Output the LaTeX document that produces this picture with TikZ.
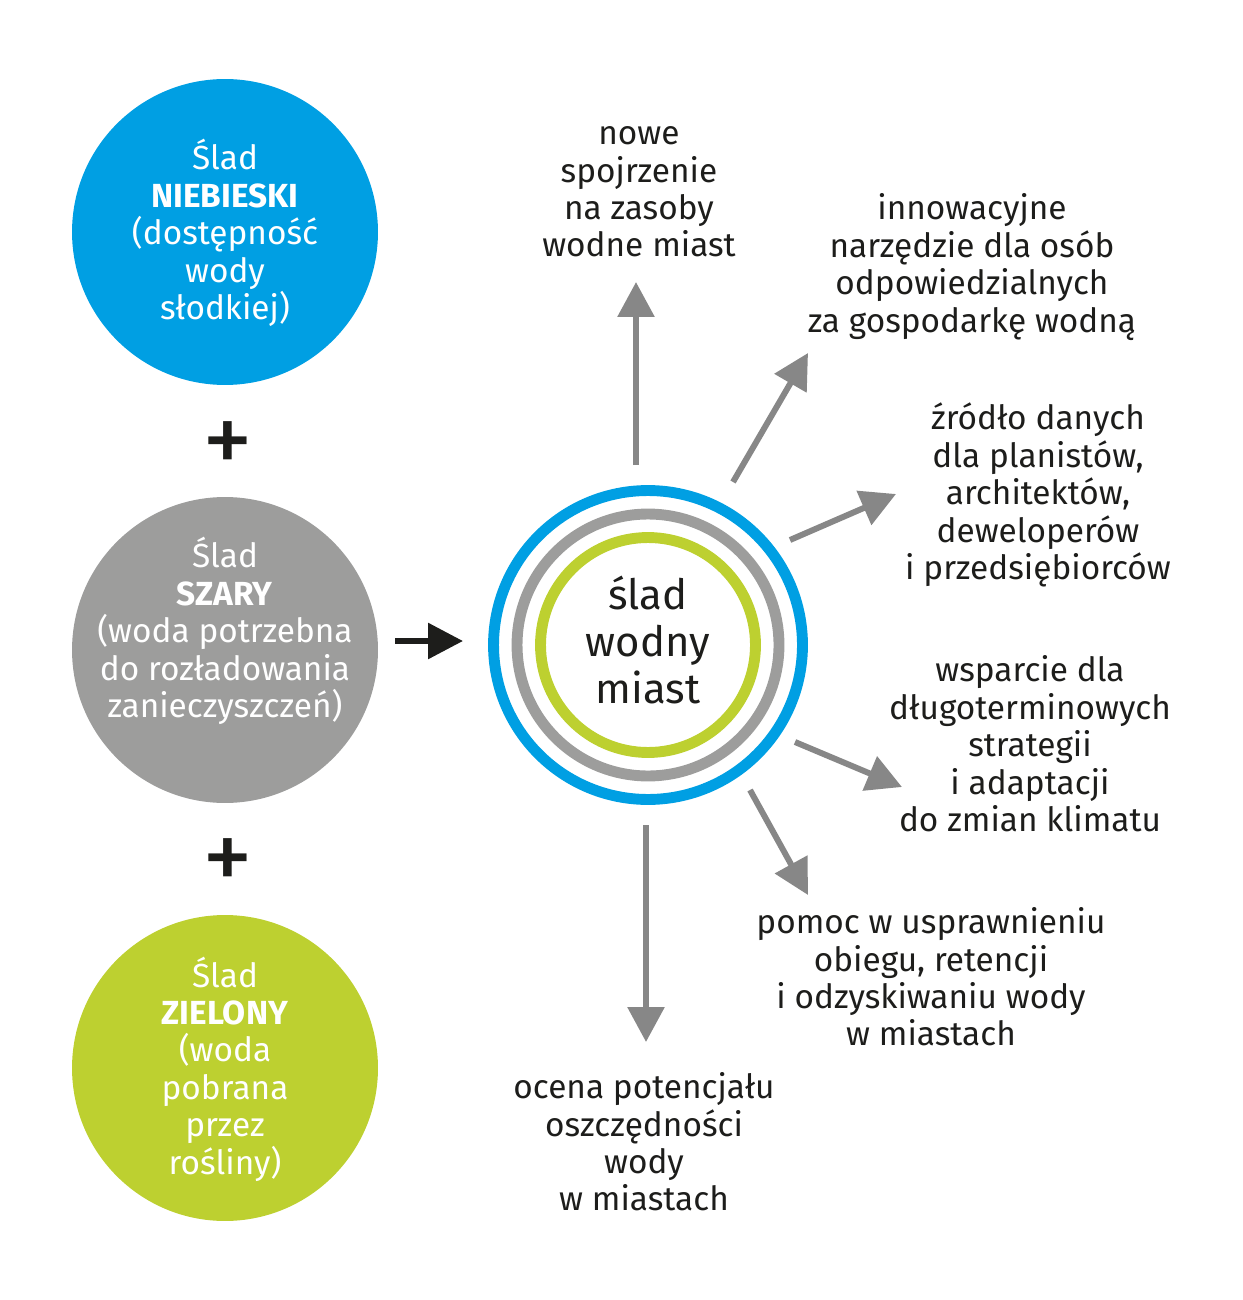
\documentclass[tikz,border=0pt]{standalone}
\usepackage{fontspec}
\setmainfont{Fira Sans}
\usetikzlibrary{arrows.meta}
\definecolor{niebieski}{HTML}{009FE3}
\definecolor{szary}{HTML}{9D9D9C}
\definecolor{zielony}{HTML}{BDD030}
\definecolor{strzalka}{HTML}{878787}
\definecolor{tekst}{HTML}{1D1D1B}
\tikzset{
  SladStyle/.style = { circle, inner sep = 0pt, minimum size = 6.12cm,
                       text = white, align = center,
                       font = \fontsize{19}{21.3}\selectfont },
  OpisStyle/.style = { align = center, text = tekst, inner sep = 0pt,
                       font = \fontsize{19}{21.3}\selectfont },
  PlusStyle/.style = { text = tekst, inner sep = 0pt,
                       font = \fontsize{58}{58}\selectfont },
  RingStyle/.style = { circle, draw, inner sep = 0pt, line width = 6.2pt },
  EdgeStyle/.style = { draw = strzalka, line width = 3.4pt,
                       -{Triangle[length=0.7cm, width=0.72cm]} } }

\begin{document}
\begin{tikzpicture}[x=0.02cm, y=-0.02cm]
  \useasboundingbox (0,0) rectangle (1242,1300);
  % trzy slady
  \node[SladStyle, fill = niebieski] (blue) at (225,232) {};
  \node[SladStyle, fill = szary] (grey) at (225,650) {};
  \node[SladStyle, fill = zielony] (green) at (225,1068) {};
  \node[SladStyle] (bluetext) at (225,233)
    {Ślad\\\textbf{NIEBIESKI}\\(dostępność\\wody\\słodkiej)};
  \node[SladStyle] (greytext) at (225,631)
    {Ślad\\\textbf{SZARY}\\(woda potrzebna\\do rozładowania\\zanieczyszczeń)};
  \node[SladStyle] (greentext) at (225,1069)
    {Ślad\\\textbf{ZIELONY}\\(woda\\pobrana\\przez\\rośliny)};

  \node[PlusStyle] (plus1) at (228,448) {+};
  \node[PlusStyle] (plus2) at (228,865) {+};

  % srodek
  \node[align = center, text = tekst, font = \fontsize{23.8}{26.6}\selectfont] (city) at (648,640)
    {ślad\\wodny\\miast};
  \node[RingStyle, draw = niebieski, minimum size = 6.18cm] (r1) at (648,645) {};
  \node[RingStyle, draw = szary, minimum size = 5.24cm] (r2) at (r1) {};
  \node[RingStyle, draw = zielony, minimum size = 4.3cm] (r3) at (r1) {};

  \coordinate (in1) at (395,641);
  \coordinate (in2) at (463,641);
  \draw[line width = 3.4pt, tekst, -{Triangle[length=0.7cm, width=0.7cm]}] (in1) -- (in2);

  % opisy
  \node[OpisStyle] (t1) at (639,192)
    {nowe\\spojrzenie\\na zasoby\\wodne miast};
  \node[OpisStyle] (t2) at (972,267)
    {innowacyjne\\narzędzie dla osób\\odpowiedzialnych\\za gospodarkę wodną};
  \node[OpisStyle] (t3) at (1038,495)
    {źródło danych\\dla planistów,\\architektów,\\deweloperów\\i przedsiębiorców};
  \node[OpisStyle] (t4) at (1030,744)
    {wsparcie dla\\długoterminowych\\strategii\\i adaptacji\\do zmian klimatu};
  \node[OpisStyle] (t5) at (931,977)
    {pomoc w usprawnieniu\\obiegu, retencji\\i odzyskiwaniu wody\\w miastach};
  \node[OpisStyle] (t6) at (644,1142)
    {ocena potencjału\\oszczędności\\wody\\w miastach};

  % strzalki
  \coordinate (a1) at (636,465);  \coordinate (b1) at (636,282);
  \coordinate (a2) at (733,482);  \coordinate (b2) at (808,353);
  \coordinate (a3) at (790,540);  \coordinate (b3) at (896,494);
  \coordinate (a4) at (795,742);  \coordinate (b4) at (902,787);
  \coordinate (a5) at (750,790);  \coordinate (b5) at (808,895);
  \coordinate (a6) at (646,825);  \coordinate (b6) at (646,1042);
  \foreach \i in {1,...,6}
    \draw[EdgeStyle] (a\i) -- (b\i);
\end{tikzpicture}
\end{document}
